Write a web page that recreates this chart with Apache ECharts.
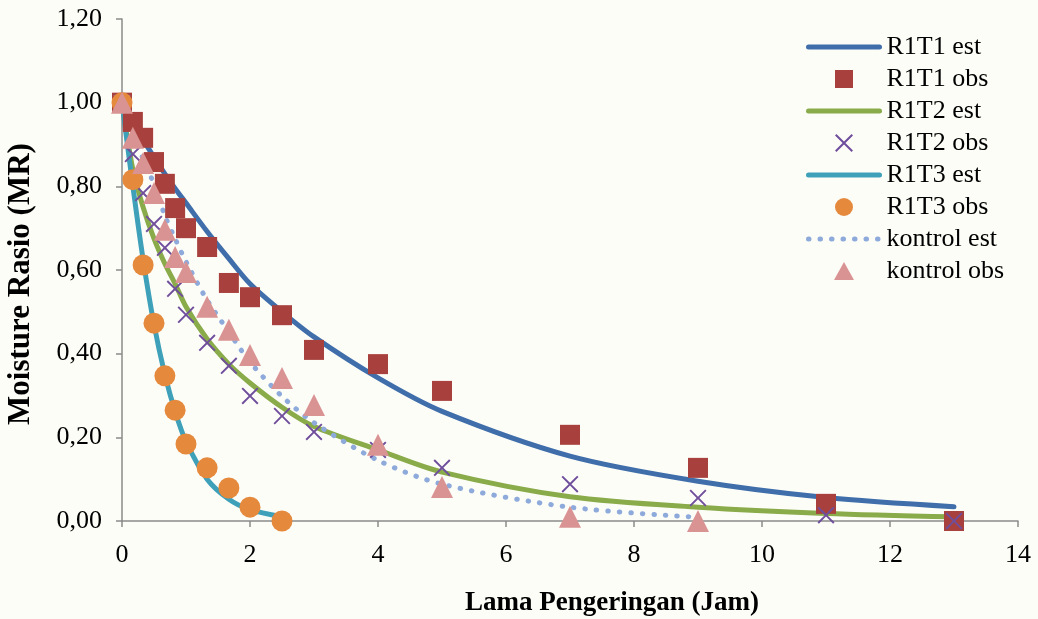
<!DOCTYPE html>
<html>
<head>
<meta charset="utf-8">
<script src="https://cdn.jsdelivr.net/npm/echarts@6/dist/echarts.min.js"></script>
<style>
  html, body { margin: 0; padding: 0; background: #fdfdf8; }
  #chart { width: 1038px; height: 619px; }
</style>
</head>
<body>
<div id="chart"></div>
<script>
// Drying time (hours) at which moisture ratio was sampled
const jam = [0, 0.17, 0.33, 0.5, 0.67, 0.83, 1, 1.33, 1.67, 2, 2.5, 3, 4, 5, 7, 9, 11, 13];

// Observed moisture ratio
const r1t1Obs = [1.00, 0.954, 0.916, 0.858, 0.806, 0.748, 0.700, 0.655, 0.569, 0.535, 0.492, 0.409, 0.375, 0.311, 0.206, 0.127, 0.041, 0.00];
const r1t2Obs = [1.00, 0.877, 0.784, 0.710, 0.653, 0.555, 0.493, 0.426, 0.371, 0.299, 0.251, 0.213, 0.170, 0.127, 0.088, 0.055, 0.014, 0.00];
const r1t3Obs = [1.00, 0.816, 0.612, 0.473, 0.347, 0.265, 0.184, 0.127, 0.079, 0.033, 0.00];
const kontrolObs = [1.00, 0.916, 0.856, 0.784, 0.696, 0.631, 0.595, 0.512, 0.457, 0.397, 0.342, 0.277, 0.182, 0.081, 0.010, 0.00];

// Estimated (model) moisture ratio
const r1t1Est = [1.00, 0.953, 0.911, 0.870, 0.830, 0.795, 0.760, 0.692, 0.627, 0.567, 0.500, 0.440, 0.342, 0.262, 0.155, 0.095, 0.056, 0.034];
const r1t2Est = [1.00, 0.840, 0.750, 0.675, 0.615, 0.567, 0.512, 0.435, 0.375, 0.330, 0.272, 0.226, 0.170, 0.117, 0.058, 0.033, 0.018, 0.010];
const r1t3Est = [1.00, 0.800, 0.625, 0.470, 0.350, 0.262, 0.190, 0.100, 0.052, 0.027, 0.010];
const kontrolEst = [1.00, 0.930, 0.865, 0.805, 0.730, 0.675, 0.620, 0.528, 0.452, 0.380, 0.298, 0.235, 0.145, 0.088, 0.033, 0.009];

const pairs = (ys) => ys.map((v, i) => [jam[i], v]);
const fmt = (v) => v.toFixed(2).replace('.', ',');

const FONT = '"Liberation Serif", "Times New Roman", serif';
const AXIS_COLOR = '#8a8a8a';
const CROSS = 'path://M0,0.8L0.8,0L5,4.2L9.2,0L10,0.8L5.8,5L10,9.2L9.2,10L5,5.8L0.8,10L0,9.2L4.2,5Z';
const SQUARE = 'path://M0,0L10,0L10,10L0,10Z';
const TRIANGLE = 'path://M5,0L10,9L0,9Z';

function estLine(name, ys, color, type) {
  return {
    name, type: 'line', data: pairs(ys),
    symbol: 'none', showSymbol: false,
    smooth: 0.3,
    lineStyle: { color, width: 5, type: type || 'solid', cap: 'round', join: 'round' },
    itemStyle: { color },
    z: 2
  };
}
function obsPoints(name, ys, color, symbol, size) {
  return {
    name, type: 'scatter', data: pairs(ys),
    symbol, symbolSize: size,
    itemStyle: { color, opacity: 1 },
    z: 3
  };
}
// legend entry for a model line: line only, no marker
const lineEntry = (name) => ({ name, itemStyle: { opacity: 0 } });

const chart = echarts.init(document.getElementById('chart'), null, { renderer: 'canvas' });
chart.setOption({
  backgroundColor: '#fdfdf8',
  animation: false,
  textStyle: { fontFamily: FONT, color: '#000' },
  grid: { left: 122, right: 20, top: 19, bottom: 98, outerBoundsMode: 'none', containLabel: false },
  legend: {
    orient: 'vertical',
    left: 806, top: 31, padding: 0,
    itemWidth: 71, itemHeight: 18, itemGap: 0,
    symbolKeepAspect: true,
    data: [
      lineEntry('R1T1 est'),
      { name: 'R1T1 obs', icon: SQUARE },
      lineEntry('R1T2 est'),
      { name: 'R1T2 obs', icon: CROSS },
      lineEntry('R1T3 est'),
      { name: 'R1T3 obs', icon: 'circle' },
      lineEntry('kontrol est'),
      { name: 'kontrol obs', icon: TRIANGLE }
    ],
    textStyle: { fontFamily: FONT, fontSize: 26, color: '#000', lineHeight: 32, padding: [0, 0, 0, 2] },
    lineStyle: { width: 5 }
  },
  xAxis: {
    type: 'value', min: 0, max: 14, interval: 2,
    name: 'Lama Pengeringan (Jam)', nameLocation: 'middle', nameGap: 69,
    nameTextStyle: { fontFamily: FONT, fontSize: 27, fontWeight: 'bold', color: '#000', padding: [0, 0, 0, 84] },
    axisLine: { lineStyle: { color: AXIS_COLOR, width: 1.5 } },
    axisTick: { show: true, inside: false, length: 6, lineStyle: { color: AXIS_COLOR, width: 1.5 } },
    axisLabel: { fontFamily: FONT, fontSize: 26, color: '#000', margin: 21 },
    splitLine: { show: false }
  },
  yAxis: {
    type: 'value', min: 0, max: 1.2, interval: 0.2,
    name: 'Moisture Rasio (MR)', nameLocation: 'middle', nameGap: 86, nameRotate: 90,
    nameTextStyle: { fontFamily: FONT, fontSize: 31, fontWeight: 'bold', color: '#000', padding: [0, 28, 0, 0] },
    axisLine: { show: true, lineStyle: { color: AXIS_COLOR, width: 1.5 } },
    axisTick: { show: true, inside: false, length: 6, lineStyle: { color: AXIS_COLOR, width: 1.5 } },
    axisLabel: { fontFamily: FONT, fontSize: 26, color: '#000', margin: 20, formatter: fmt },
    splitLine: { show: false }
  },
  series: [
    estLine('R1T1 est', r1t1Est, '#3f6eaa'),
    obsPoints('R1T1 obs', r1t1Obs, '#a8413e', 'rect', 20),
    estLine('R1T2 est', r1t2Est, '#8aab4a'),
    obsPoints('R1T2 obs', r1t2Obs, '#6f4e9c', CROSS, 17),
    estLine('R1T3 est', r1t3Est, '#3fa0b9'),
    obsPoints('R1T3 obs', r1t3Obs, '#e5893c', 'circle', 21),
    estLine('kontrol est', kontrolEst, '#8eaadb', [0.5, 11]),
    obsPoints('kontrol obs', kontrolObs, '#d99392', 'triangle', 22)
  ]
});
</script>
</body>
</html>
